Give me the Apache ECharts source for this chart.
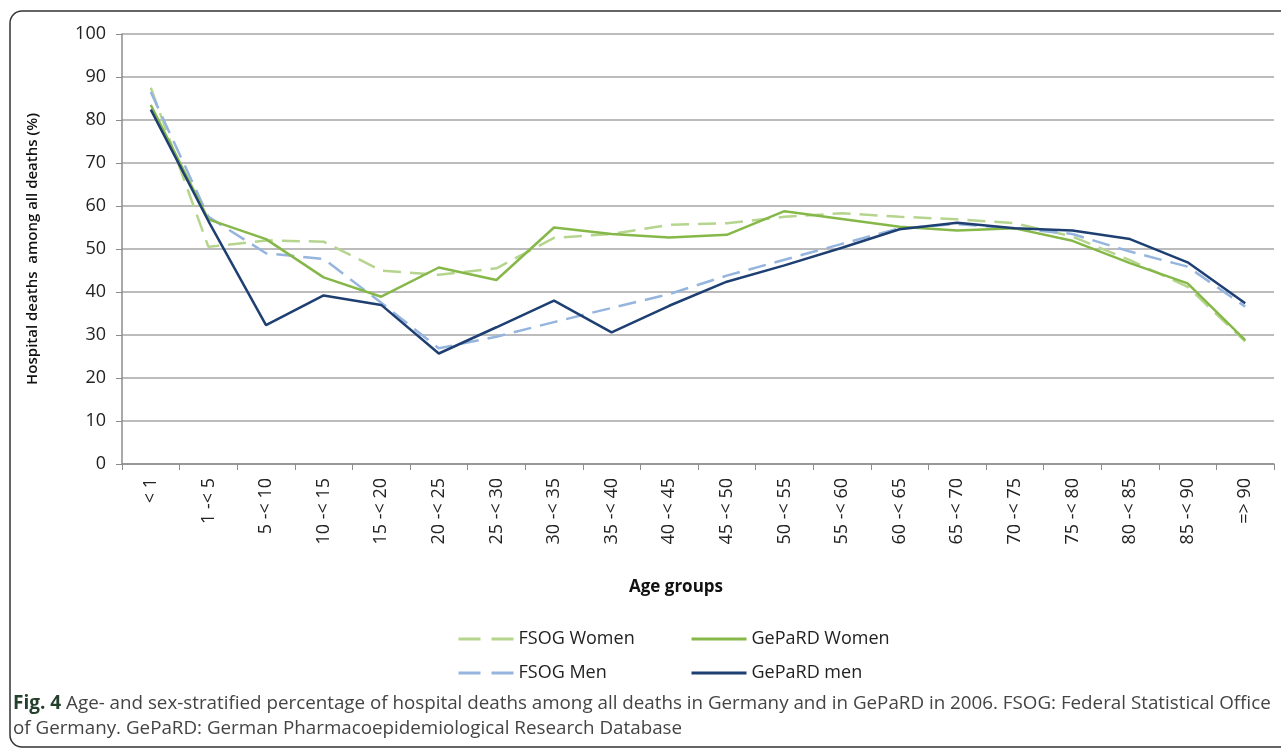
<!DOCTYPE html>
<html>
<head>
<meta charset="utf-8">
<script src="https://cdn.jsdelivr.net/npm/echarts@6/dist/echarts.min.js"></script>
<style>
  html, body { margin: 0; padding: 0; background: #fff; }
  #chart { width: 1281px; height: 749px; }
</style>
</head>
<body>
<div id="chart"></div>
<script>
// age groups on the x axis
const ageGroups = ['< 1', '1 -< 5', '5 -< 10', '10 -< 15', '15 -< 20', '20 -< 25', '25 -< 30',
  '30 -< 35', '35 -< 40', '40 -< 45', '45 -< 50', '50 -< 55', '55 -< 60', '60 -< 65',
  '65 -< 70', '70 -< 75', '75 -< 80', '80 -< 85', '85 -< 90', '=> 90'];

// hospital deaths among all deaths (%)
const fsogWomen = [87.5, 50.5, 52, 51.7, 45, 44, 45.5, 52.6, 53.5, 55.6, 56, 57.5, 58.3, 57.5, 56.9, 56, 52.9, 47.4, 41.2, 28.5];
const gepardWomen = [83.5, 56.9, 52.3, 43.4, 38.9, 45.7, 42.8, 55, 53.5, 52.7, 53.3, 58.8, 57, 55.2, 54.3, 54.8, 51.9, 46.7, 42, 28.8];
const fsogMen = [86.5, 57.5, 49, 47.7, 37.5, 26.9, 29.6, 33, 36.3, 39.5, 43.8, 47.5, 51.2, 54.8, 55.8, 54.8, 53.5, 49.4, 45.9, 36.6];
const gepardMen = [82.4, 56.5, 32.3, 39.2, 37, 25.7, 31.8, 38, 30.6, 36.8, 42.4, 46.2, 50.3, 54.6, 56.1, 54.8, 54.3, 52.3, 46.9, 37.4];

const captionLine1 = 'Age- and sex-stratified percentage of hospital deaths among all deaths in Germany and in GePaRD in 2006. FSOG: Federal Statistical Office';
const captionLine2 = 'of Germany. GePaRD: German Pharmacoepidemiological Research Database';

const font = '"Open Sans", "Noto Sans", sans-serif';

const chart = echarts.init(document.getElementById('chart'));

function lineSeries(name, data, color, dashed, z) {
  return {
    name,
    type: 'line',
    data,
    symbol: 'none',
    z,
    lineStyle: { color, width: 2.5, type: dashed ? [18, 9] : 'solid' },
    itemStyle: { color }
  };
}

const legendText = { fontFamily: font, fontSize: 18, color: '#222' };

// legend: line only, the symbol of the icon is hidden
const legendBase = {
  orient: 'vertical', top: 625, itemWidth: 55, itemHeight: 14, itemGap: 16,
  itemStyle: { opacity: 0 }, textStyle: legendText
};

const option = {
  animation: false,
  backgroundColor: '#fff',
  grid: { left: 122, right: 7, top: 34, bottom: 285 },
  legend: [
    Object.assign({ left: 452, data: ['FSOG Women', 'FSOG Men'], lineStyle: { width: 3, type: [22, 11] } }, legendBase),
    Object.assign({ left: 685, data: ['GePaRD Women', 'GePaRD men'], lineStyle: { width: 3 } }, legendBase)
  ],
  xAxis: {
    type: 'category',
    data: ageGroups,
    boundaryGap: true,
    axisLine: { lineStyle: { color: '#8c8c8c', width: 1.5 } },
    axisTick: { show: true, length: 6, lineStyle: { color: '#8c8c8c' } },
    axisLabel: { rotate: 90, interval: 0, margin: 14, fontFamily: font, fontSize: 18, color: '#222' }
  },
  yAxis: {
    type: 'value',
    min: 0,
    max: 100,
    interval: 10,
    name: 'Hospital deaths  among all deaths (%)',
    nameLocation: 'middle',
    nameGap: 82,
    nameRotate: 90,
    nameTextStyle: { fontFamily: font, fontSize: 15, fontWeight: 600, color: '#111' },
    axisLine: { show: true, lineStyle: { color: '#8c8c8c', width: 1.5 } },
    axisTick: { show: true, length: 6, lineStyle: { color: '#8c8c8c' } },
    axisLabel: { margin: 16, fontFamily: font, fontSize: 18, color: '#222' },
    splitLine: { lineStyle: { color: '#a6a6a6', width: 1.5 } }
  },
  series: [
    lineSeries('FSOG Women', fsogWomen, '#b5d58f', true, 2),
    lineSeries('FSOG Men', fsogMen, '#95b4de', true, 3),
    lineSeries('GePaRD Women', gepardWomen, '#86b849', false, 4),
    lineSeries('GePaRD men', gepardMen, '#1e3f72', false, 5)
  ],
  graphic: [
    {
      type: 'rect',
      silent: true,
      shape: { x: 10, y: 11, width: 1300, height: 736, r: 12 },
      style: { fill: 'none', stroke: '#333', lineWidth: 1.5 }
    },
    {
      type: 'text',
      x: 676,
      y: 587,
      style: {
        text: 'Age groups',
        fontFamily: font, fontSize: 17, fontWeight: 'bold', fill: '#111',
        align: 'center', verticalAlign: 'middle'
      }
    },
    {
      type: 'text',
      left: 13,
      top: 691,
      style: {
        text: '{b|Fig. 4} ' + captionLine1 + '\n' + captionLine2,
        fontFamily: font,
        fontSize: 18.8,
        lineHeight: 25,
        fill: '#444',
        rich: {
          b: { fontFamily: font, fontSize: 19, fontWeight: 'bold', fill: '#24402c' }
        }
      }
    }
  ]
};

chart.setOption(option);
</script>
</body>
</html>
